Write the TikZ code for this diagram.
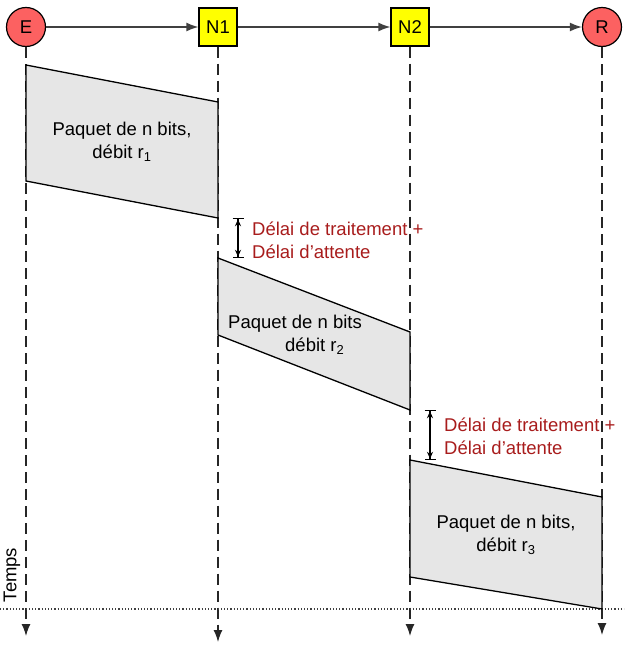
\documentclass[tikz,border=0pt]{standalone}
\usepackage{fontspec}
\setmainfont{Liberation Sans}
\usetikzlibrary{arrows.meta}

\definecolor{hotered}{rgb}{0.99,0.38,0.38}
\definecolor{routeuryellow}{rgb}{1.0,1.0,0.0}
\definecolor{paquetgray}{rgb}{0.902,0.902,0.902}
\definecolor{delaired}{rgb}{0.66,0.11,0.11}
\definecolor{liengray}{rgb}{0.25,0.25,0.25}

\begin{document}
\begin{tikzpicture}[x=1pt,y=-1pt,
  txt/.style={font=\fontsize{18.5}{23}\selectfont},
  hote/.style={txt,circle,draw=black,line width=1.2pt,fill=hotered,minimum size=39pt,inner sep=0pt},
  routeur/.style={txt,rectangle,draw=black,line width=1.2pt,fill=routeuryellow,minimum size=38pt,inner sep=0pt},
  lien/.style={liengray,line width=1.5pt,-{Latex[length=12pt,width=9pt]}},
  vie/.style={black!85,line width=1.3pt,dash pattern=on 11pt off 6pt,-{Latex[length=12pt,width=9pt]}},
  paquet/.style={fill=paquetgray,draw=black,line width=1.3pt},
  delai/.style={black,line width=1.2pt,{Bar[width=11pt]Stealth[length=7pt,width=6pt]}-{Stealth[length=7pt,width=6pt]Bar[width=11pt]}},
  delaitext/.style={txt,delaired,anchor=west,align=left,inner sep=0pt}]
\useasboundingbox (0,0) rectangle (624,645);

% hotes et routeurs
\node[hote] (nE) at (26,27) {E};
\node[routeur] (nN1) at (218,27) {N1};
\node[routeur] (nN2) at (410,27) {N2};
\node[hote] (nR) at (602,27) {R};
\draw[lien] (nE) -- (nN1);
\draw[lien] (nN1) -- (nN2);
\draw[lien] (nN2) -- (nR);

% lignes de vie
\coordinate (bE) at (26,636);
\coordinate (bN1) at (218,642);
\coordinate (bN2) at (410,636);
\coordinate (bR) at (602,635);
\draw[vie] (nE.south) -- (bE);
\draw[vie] (nN1.south) -- (bN1);
\draw[vie] (nN2.south) -- (bN2);
\draw[vie] (nR.south) -- (bR);

% axe du temps
\draw[black!75,line width=1.2pt,dotted] (0,609) -- (624,609);
\node[txt,rotate=90] (temps) at (12,575) {Temps};

% paquets
\filldraw[paquet] (26,65) -- (218,102) -- (218,218) -- (26,181) -- cycle;
\filldraw[paquet] (218,258) -- (410,332) -- (410,410) -- (218,335) -- cycle;
\filldraw[paquet] (410,460) -- (602,497) -- (602,609) -- (410,577) -- cycle;
\node[txt,align=center] (p1) at (122,142) {Paquet de n bits,\\débit r\textsubscript{1}};
\node[txt,align=left,anchor=west,inner sep=0pt] (p2) at (228,335) {Paquet de n bits\\\hspace{57pt}débit r\textsubscript{2}};
\node[txt,align=center] (p3) at (506,535) {Paquet de n bits,\\débit r\textsubscript{3}};

% delais
\coordinate (d1a) at (238,218);
\coordinate (d1b) at (238,258);
\coordinate (d2a) at (430,410);
\coordinate (d2b) at (430,460);
\draw[delai] (d1a) -- (d1b);
\draw[delai] (d2a) -- (d2b);
\node[delaitext] (t1) at (252,240) {Délai de traitement +\\Délai d'attente};
\node[delaitext] (t2) at (444,436) {Délai de traitement +\\Délai d'attente};
\end{tikzpicture}
\end{document}
